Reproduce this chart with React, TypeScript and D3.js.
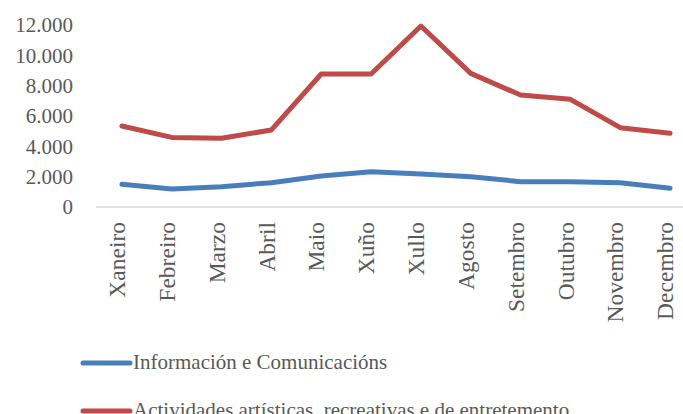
import * as React from "react";
import { scaleBand, scaleLinear, line } from "d3";

const months = [
  "Xaneiro", "Febreiro", "Marzo", "Abril", "Maio", "Xuño",
  "Xullo", "Agosto", "Setembro", "Outubro", "Novembro", "Decembro",
];
const infoValues = [1500, 1190, 1340, 1600, 2040, 2330, 2180, 2000, 1670, 1670, 1600, 1230];
const artsValues = [5340, 4590, 4530, 5080, 8770, 8770, 11930, 8810, 7380, 7100, 5230, 4860];
const yTicks = [0, 2000, 4000, 6000, 8000, 10000, 12000];
const seriesNames = [
  "Información e Comunicacións",
  "Actividades artísticas, recreativas e de entretemento",
];
const seriesColors = ["#4a7ebb", "#be4b48"];

const W = 683;
const H = 414;
const FONT = "'Liberation Serif', 'Times New Roman', serif";

function fmt(v: number) {
  return v.toLocaleString("de-DE");
}

export default function App() {
  const x = scaleBand<string>().domain(months).range([97, 695]);
  const y = scaleLinear().domain([0, 12000]).range([207, 25]);
  const cx = (m: string) => (x(m) ?? 0) + x.bandwidth() / 2;

  const path = line<number>()
    .x((_, i) => cx(months[i]))
    .y((d) => y(d));

  const series = [infoValues, artsValues];

  return (
    <svg
      width={W}
      height={H}
      style={{ position: "absolute", left: 0, top: 0, background: "#fff" }}
      fontFamily={FONT}
    >
      {/* y tick labels */}
      {yTicks.map((t) => (
        <text key={t} x={73} y={y(t)} dy="0.35em" textAnchor="end" fontSize={21} fill="#595959">
          {fmt(t)}
        </text>
      ))}
      {/* x axis line */}
      <line x1={96} x2={W} y1={y(0)} y2={y(0)} stroke="#d9d9d9" strokeWidth={1.5} />
      {/* month labels */}
      {months.map((m) => (
        <text
          key={m}
          transform={`translate(${cx(m) - 5},${y(0) + 15}) rotate(-90)`}
          dy="0.35em"
          textAnchor="end"
          fontSize={23.5}
          fill="#595959"
        >
          {m}
        </text>
      ))}
      {/* series lines */}
      {series.map((vals, i) => (
        <path
          key={i}
          d={path(vals) ?? ""}
          fill="none"
          stroke={seriesColors[i]}
          strokeWidth={5}
          strokeLinejoin="round"
          strokeLinecap="round"
        />
      ))}
      {/* legend */}
      {seriesNames.map((name, i) => {
        const ly = 363 + i * 48;
        return (
          <g key={name}>
            <line x1={83} x2={130} y1={ly} y2={ly} stroke={seriesColors[i]} strokeWidth={5} strokeLinecap="round" />
            <text x={133} y={ly} dy="0.3em" fontSize={21} fill="#595959">
              {name}
            </text>
          </g>
        );
      })}
    </svg>
  );
}
